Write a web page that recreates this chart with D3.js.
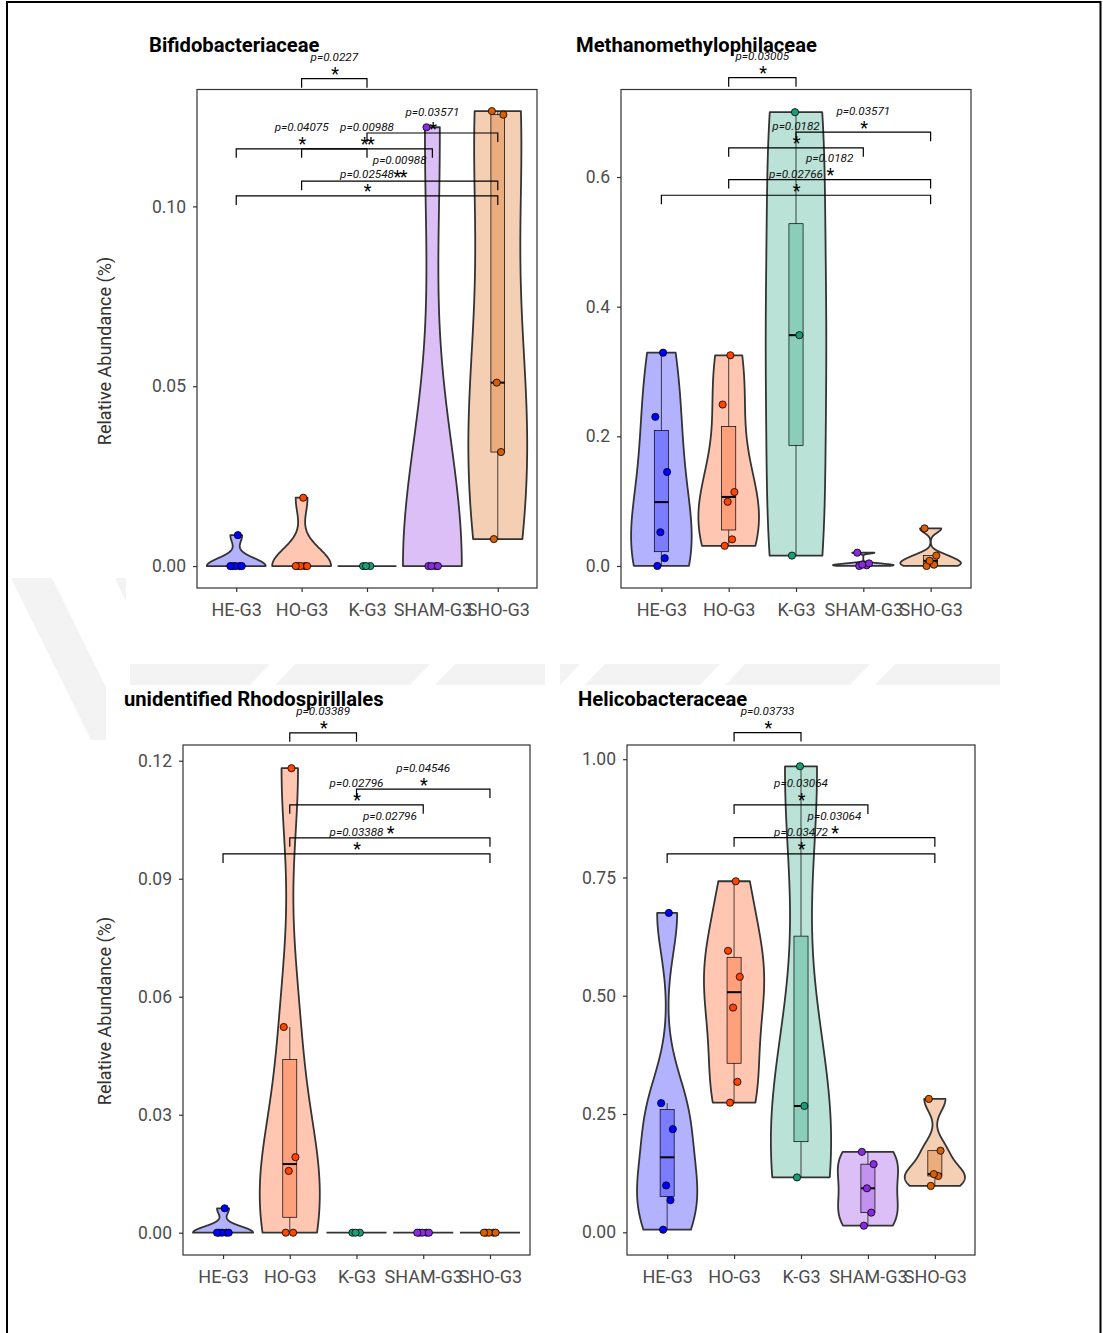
<!DOCTYPE html>
<html><head><meta charset="utf-8">
<script src="https://cdn.jsdelivr.net/npm/d3@7"></script>
<style>body{margin:0;background:#fff} svg{display:block}</style>
</head><body>
<svg id="c" width="1103" height="1333"></svg>
<script>
// ---------- DATA ----------
const groups = ["HE-G3","HO-G3","K-G3","SHAM-G3","SHO-G3"];
const groupColors = ["#0000FF","#FF4500","#1B9E77","#8A2BE2","#D95F02"];

// Panel 1: Bifidobacteriaceae
const bifTitle = "Bifidobacteriaceae";
const bifHE = [0,0,0,0,0,0.0086];
const bifHO = [0,0,0,0,0,0.019];
const bifK = [0,0,0];
const bifSHAM = [0,0,0,0,0.122];
const bifSHO = [0.0075,0.0317,0.051,0.1255,0.1265];
const bifTicks = [0,0.05,0.10];
const bifPairs = [[1,2],[2,4],[0,2],[1,3],[1,4],[0,4]];
const bifBracketY = [0.1355,0.1204,0.1160,0.1160,0.1070,0.1029];
const bifP = ["p=0.0227","p=0.03571","p=0.04075","p=0.00988","p=0.00988","p=0.02548"];
const bifStars = ["*","*","*","**","**","*"];

// Panel 2: Methanomethylophilaceae
const metTitle = "Methanomethylophilaceae";
const metHE = [0,0.012,0.052,0.145,0.23,0.329];
const metHO = [0.031,0.041,0.099,0.114,0.249,0.325];
const metK = [0.016,0.356,0.70];
const metSHAM = [0,0.001,0.002,0.004,0.0205];
const metSHO = [0,0.002,0.008,0.016,0.058];
const metTicks = [0,0.2,0.4,0.6];
const metPairs = [[1,2],[2,4],[1,3],[1,4],[0,4]];
const metBracketY = [0.7532,0.6692,0.6451,0.5961,0.5719];
const metP = ["p=0.03005","p=0.03571","p=0.0182","p=0.0182","p=0.02766"];
const metStars = ["*","*","*","*","*"];

// Panel 3: unidentified Rhodospirillales
const rhoTitle = "unidentified Rhodospirillales";
const rhoHE = [0,0,0,0,0,0.0062];
const rhoHO = [0,0,0.0157,0.0192,0.0523,0.1181];
const rhoK = [0,0,0];
const rhoSHAM = [0,0,0,0,0];
const rhoSHO = [0,0,0,0,0];
const rhoTicks = [0,0.03,0.06,0.09,0.12];
const rhoPairs = [[1,2],[2,4],[1,3],[1,4],[0,4]];
const rhoBracketY = [0.1271,0.1128,0.1088,0.1004,0.0963];
const rhoP = ["p=0.03389","p=0.04546","p=0.02796","p=0.02796","p=0.03388"];
const rhoStars = ["*","*","*","*","*"];

// Panel 4: Helicobacteraceae
const helTitle = "Helicobacteraceae";
const helHE = [0.0055,0.068,0.099,0.218,0.273,0.675];
const helHO = [0.274,0.318,0.475,0.54,0.595,0.742];
const helK = [0.116,0.267,0.985];
const helSHAM = [0.014,0.0415,0.093,0.144,0.170];
const helSHO = [0.098,0.119,0.123,0.1725,0.282];
const helTicks = [0,0.25,0.50,0.75,1.00];
const helPairs = [[1,2],[1,3],[1,4],[0,4]];
const helBracketY = [1.0562,0.9034,0.8342,0.7998];
const helP = ["p=0.03733","p=0.03064","p=0.03064","p=0.03472"];
const helStars = ["*","*","*","*"];

const yAxisTitle = "Relative Abundance (%)";

// ---------- DRAW ----------
const svg = d3.select("#c");
svg.append("rect").attr("width",1103).attr("height",1333).attr("fill","#fff");

// faint watermark (behind figure images)
const wm = svg.append("g").attr("fill","#f3f3f3");
wm.append("polygon").attr("points","11,578 52,578 132,740 91,740");
wm.append("polygon").attr("points","115,578 160,578 200,664 155,664");
wm.append("polygon").attr("points","130,664 545,664 545,685 130,685");
wm.append("polygon").attr("points","560,664 1000,664 1000,685 560,685");
// white image areas
svg.append("rect").attr("x",126).attr("y",6).attr("width",972).attr("height",658).attr("fill","#fff");
svg.append("rect").attr("x",106).attr("y",685).attr("width",992).attr("height",648).attr("fill","#fff");
const cut = svg.append("g").attr("fill","#fff");
[250,410,560,700,850].forEach(x0=>{
  cut.append("polygon").attr("points",`${x0+20},664 ${x0+45},664 ${x0+25},685 ${x0},685`);
});

// page frame
svg.append("path").attr("d","M7,1333 V2 H1100.5 V1333").attr("fill","none").attr("stroke","#000").attr("stroke-width",2);

function bwNrd0(v){
  const n=v.length;
  const hi=d3.deviation(v)||0;
  const iqr=d3.quantile(v,0.75)-d3.quantile(v,0.25);
  let lo=Math.min(hi,iqr/1.34);
  if(!lo){ lo = hi || Math.abs(v[0]) || 1; }
  return 0.9*lo*Math.pow(n,-0.2);
}
function kde(v){
  const s=v.slice().sort(d3.ascending);
  const bw=bwNrd0(s);
  const lo=s[0], hi=s[s.length-1];
  const N=256, out=[];
  for(let i=0;i<N;i++){
    const t=lo+(hi-lo)*i/(N-1);
    let d=0;
    s.forEach(xi=>{const u=(t-xi)/bw; d+=Math.exp(-0.5*u*u);});
    out.push([t,d]);
  }
  const m=d3.max(out,d=>d[1]);
  return out.map(d=>[d[0],d[1]/m]);
}
const jitter=[-0.06,0.05,-0.015,0.085,-0.09,0.025];

function panel(cfg){
  const g=svg.append("g");
  const r=cfg.rect;
  const x=d3.scalePoint().domain(groups).range([r.x0,r.x1]).padding(0.6);
  const y=d3.scaleLinear().domain(cfg.domain).range([r.y1,r.y0]);
  const step=x.step();
  const hw=0.45*step;

  cfg.values.forEach((vals,gi)=>{
    const cx=x(groups[gi]);
    const col=groupColors[gi];
    const s=vals.slice().sort(d3.ascending);
    const ext=d3.extent(s);
    if(ext[1]-ext[0]<=0){
      g.append("line").attr("x1",cx-hw).attr("x2",cx+hw).attr("y1",y(ext[0])).attr("y2",y(ext[0]))
        .attr("stroke","#333").attr("stroke-width",1.8);
    } else {
      const dens=kde(s);
      const area=d3.area().y(d=>y(d[0])).x0(d=>cx-hw*d[1]).x1(d=>cx+hw*d[1]);
      g.append("path").attr("d",area(dens)+"Z").attr("fill",col).attr("fill-opacity",0.3)
        .attr("stroke","#333").attr("stroke-width",1.8).attr("stroke-linejoin","round");
    }
    const q1=d3.quantile(s,0.25), q3=d3.quantile(s,0.75), med=d3.quantile(s,0.5);
    const iqr=q3-q1;
    const wlo=d3.min(s.filter(v=>v>=q1-1.5*iqr)), whi=d3.max(s.filter(v=>v<=q3+1.5*iqr));
    const bw=0.105*step;
    if(ext[1]-ext[0]>0){
      g.append("line").attr("x1",cx).attr("x2",cx).attr("y1",y(wlo)).attr("y2",y(q1)).attr("stroke","#000").attr("stroke-width",0.7);
      g.append("line").attr("x1",cx).attr("x2",cx).attr("y1",y(q3)).attr("y2",y(whi)).attr("stroke","#000").attr("stroke-width",0.7);
      g.append("rect").attr("x",cx-bw).attr("width",2*bw).attr("y",y(q3)).attr("height",Math.max(0,y(q1)-y(q3)))
        .attr("fill",col).attr("fill-opacity",0.3).attr("stroke","#000").attr("stroke-width",0.7);
      g.append("line").attr("x1",cx-bw).attr("x2",cx+bw).attr("y1",y(med)).attr("y2",y(med)).attr("stroke","#000").attr("stroke-width",2);
    }
    vals.forEach((v,i)=>{
      g.append("circle").attr("cx",cx+jitter[i%jitter.length]*step).attr("cy",y(v)).attr("r",3.6)
        .attr("fill",col).attr("stroke","#000").attr("stroke-width",0.8);
    });
  });

  g.append("rect").attr("x",r.x0).attr("y",r.y0).attr("width",r.x1-r.x0).attr("height",r.y1-r.y0)
    .attr("fill","none").attr("stroke","#333").attr("stroke-width",1.2);

  const ya=d3.axisLeft(y).tickValues(cfg.ticks).tickFormat(d3.format(cfg.fmt)).tickSize(4).tickPadding(7);
  const yg=g.append("g").attr("transform",`translate(${r.x0},0)`).call(ya);
  const xa=d3.axisBottom(x).tickSize(4).tickPadding(11);
  const xg=g.append("g").attr("transform",`translate(0,${r.y1})`).call(xa);
  [yg,xg].forEach(a=>{
    a.select(".domain").remove();
    a.selectAll("line").attr("stroke","#333").attr("stroke-width",1.2);
    a.selectAll("text").attr("fill","#4d4d4d").style("font-family","Roboto").style("font-size","18px");
  });
  yg.selectAll("text").style("font-size","17.5px");

  g.append("text").attr("x",cfg.titleX).attr("y",cfg.titleY).text(cfg.title)
    .style("font-family","Roboto").style("font-weight","bold").style("font-size","20.2px").attr("fill","#000");

  if(cfg.yTitle){
    g.append("text").attr("transform",`translate(111,${cfg.yTitleC}) rotate(-90)`).attr("text-anchor","middle")
      .text(yAxisTitle).style("font-family","Roboto").style("font-size","18px").attr("fill","#333");
  }

  cfg.pairs.forEach((p,i)=>{
    const x1=x(groups[p[0]]), x2=x(groups[p[1]]), yy=y(cfg.bY[i]);
    g.append("path").attr("d",`M${x1},${yy+9}V${yy}H${x2}V${yy+9}`).attr("fill","none").attr("stroke","#000").attr("stroke-width",1.2);
    const xm=(x1+x2)/2;
    g.append("text").attr("x",xm).attr("y",yy-17.5).attr("text-anchor","middle").text(cfg.pl[i])
      .style("font-family","Roboto").style("font-style","italic").style("font-size","11.7px").attr("fill","#111");
    g.append("text").attr("x",xm).attr("y",yy+1.5).attr("text-anchor","middle").text(cfg.st[i])
      .style("font-family","Roboto").style("font-size","18px").style("letter-spacing","-1.5px").attr("fill","#000");
  });
}

panel({title:bifTitle,titleX:149,titleY:52,values:[bifHE,bifHO,bifK,bifSHAM,bifSHO],ticks:bifTicks,fmt:".2f",
  domain:[-0.0061,0.1325],rect:{x0:197,x1:537,y0:89.5,y1:588},pairs:bifPairs,bY:bifBracketY,pl:bifP,st:bifStars,yTitle:true,yTitleC:351});
panel({title:metTitle,titleX:576,titleY:52,values:[metHE,metHO,metK,metSHAM,metSHO],ticks:metTicks,fmt:".1f",
  domain:[-0.034,0.735],rect:{x0:621,x1:971,y0:89.5,y1:588},pairs:metPairs,bY:metBracketY,pl:metP,st:metStars,yTitle:false});
panel({title:rhoTitle,titleX:124,titleY:706,values:[rhoHE,rhoHO,rhoK,rhoSHAM,rhoSHO],ticks:rhoTicks,fmt:".2f",
  domain:[-0.00567,0.124],rect:{x0:183,x1:530,y0:745,y1:1255},pairs:rhoPairs,bY:rhoBracketY,pl:rhoP,st:rhoStars,yTitle:true,yTitleC:1011});
panel({title:helTitle,titleX:578,titleY:706,values:[helHE,helHO,helK,helSHAM,helSHO],ticks:helTicks,fmt:".2f",
  domain:[-0.048,1.030],rect:{x0:627,x1:975,y0:745,y1:1255},pairs:helPairs,bY:helBracketY,pl:helP,st:helStars,yTitle:false});
</script>
</body></html>
